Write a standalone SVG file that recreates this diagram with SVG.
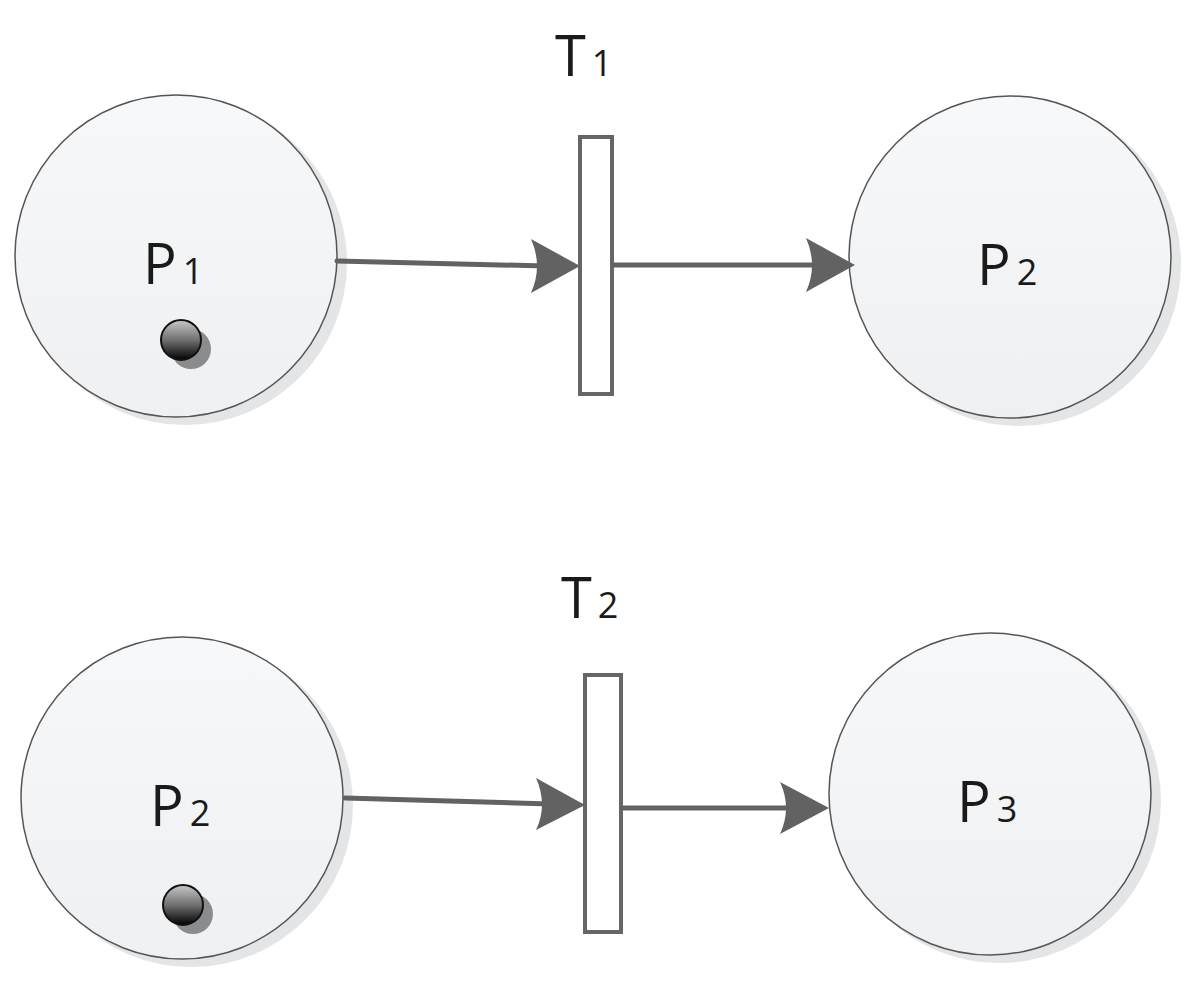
<svg xmlns="http://www.w3.org/2000/svg" width="1198" height="984" viewBox="0 0 1198 984">
<defs>
<linearGradient id="pf" x1="0" y1="0" x2="0" y2="1"><stop offset="0" stop-color="#f7f8fa"/><stop offset="1" stop-color="#eff0f2"/></linearGradient>
<linearGradient id="tk" x1="0" y1="0" x2="0" y2="1"><stop offset="0" stop-color="#c8c8c8"/><stop offset="0.5" stop-color="#707070"/><stop offset="1" stop-color="#000"/></linearGradient>
</defs>
<style>
.place{fill:url(#pf);stroke:#555;stroke-width:1.5}
.sh{fill:#e4e5e7}
.tr{fill:#fff;stroke:#666;stroke-width:4}
.lb{font-family:"Open Sans","DejaVu Sans",sans-serif;font-size:56px;fill:#1a1a1a}
.sub{font-size:36px}
.cn{stroke:#626262;stroke-width:5;fill:none;stroke-linecap:round}
.ah{fill:#626262}
</style>
<g id="P1">
<circle class="sh" cx="185" cy="263" r="162"/>
<circle class="place" cx="176" cy="256" r="161"/>
<text class="lb" x="143" y="284">P<tspan class="sub" dx="6">1</tspan></text>
<circle cx="191" cy="349" r="20" fill="#8a8c8e"/>
<circle cx="181" cy="340" r="20" fill="url(#tk)" stroke="#111" stroke-width="2"/>
</g>
<g id="T1">
<rect class="tr" x="580" y="137" width="32" height="257"/>
<text class="lb" x="555" y="76">T<tspan class="sub" dx="6">1</tspan></text>
</g>
<g id="P2top">
<circle class="sh" cx="1019" cy="264" r="162"/>
<circle class="place" cx="1010" cy="257" r="161"/>
<text class="lb" x="977" y="285">P<tspan class="sub" dx="6">2</tspan></text>
</g>
<g id="P2bottom">
<circle class="sh" cx="191" cy="805" r="162"/>
<circle class="place" cx="182" cy="798" r="161"/>
<text class="lb" x="150" y="826">P<tspan class="sub" dx="6">2</tspan></text>
<circle cx="193" cy="914" r="20" fill="#8a8c8e"/>
<circle cx="183" cy="905" r="20" fill="url(#tk)" stroke="#111" stroke-width="2"/>
</g>
<g id="T2">
<rect class="tr" x="585" y="675" width="36" height="257"/>
<text class="lb" x="561" y="618">T<tspan class="sub" dx="6">2</tspan></text>
</g>
<g id="P3">
<circle class="sh" cx="999" cy="801" r="162"/>
<circle class="place" cx="990" cy="794" r="161"/>
<text class="lb" x="957" y="822">P<tspan class="sub" dx="6">3</tspan></text>
</g>
<g id="connectors">
<line class="cn" x1="337" y1="261" x2="545" y2="266"/>
<path class="ah" d="M531,239 L580,266 L531,293 Q543,266 531,239 Z"/>
<line class="cn" x1="614" y1="265" x2="820" y2="265"/>
<path class="ah" d="M806,238 L855,265 L806,292 Q818,265 806,238 Z"/>
<line class="cn" x1="345" y1="798" x2="550" y2="804"/>
<path class="ah" d="M536,778 L585,805 L536,830 Q548,805 536,778 Z"/>
<line class="cn" x1="623" y1="808" x2="795" y2="808"/>
<path class="ah" d="M780,782 L829,808 L780,834 Q792,808 780,782 Z"/>
</g>
</svg>
